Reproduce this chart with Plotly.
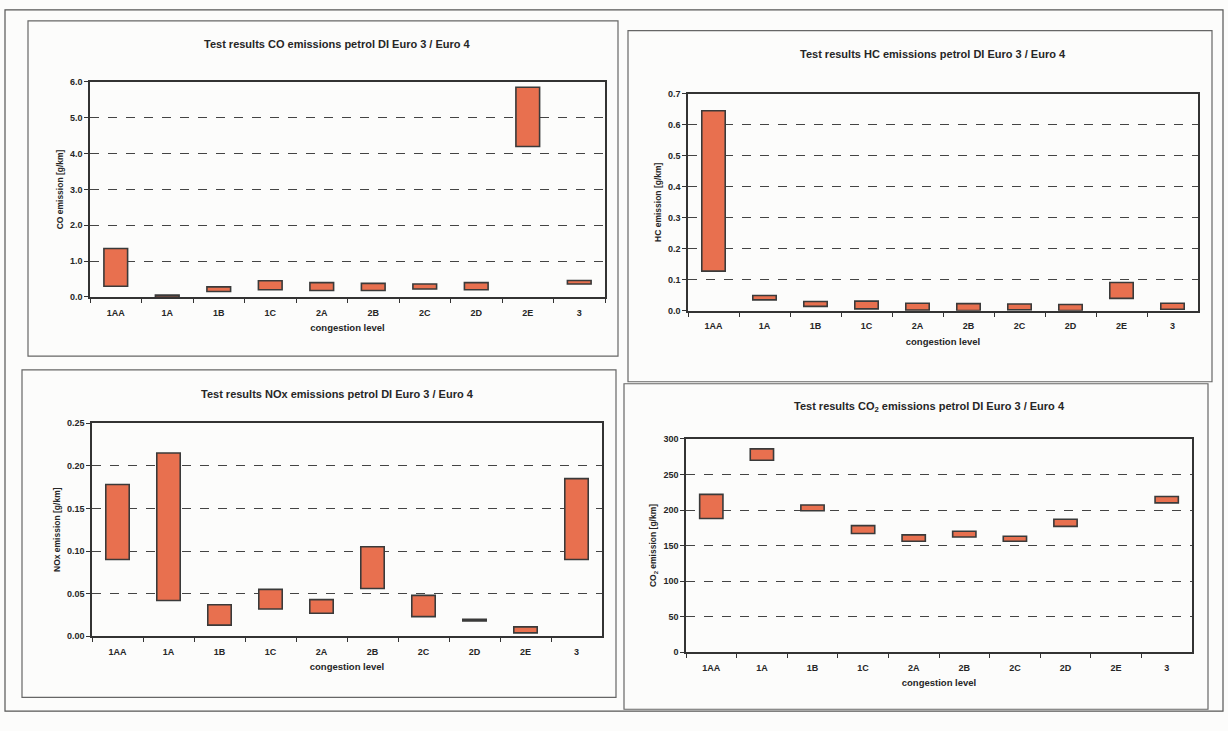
import plotly.graph_objects as go

# congestion levels on the x axis
levels = ["1AA", "1A", "1B", "1C", "2A", "2B", "2C", "2D", "2E", "3"]

# min / max of measured emissions per congestion level [g/km]
co_low = [0.30, 0.00, 0.15, 0.20, 0.18, 0.18, 0.22, 0.20, 4.20, 0.36]
co_high = [1.35, 0.05, 0.28, 0.45, 0.40, 0.38, 0.36, 0.40, 5.85, 0.46]

hc_low = [0.128, 0.035, 0.014, 0.006, 0.002, 0.001, 0.003, 0.001, 0.040, 0.005]
hc_high = [0.645, 0.049, 0.030, 0.031, 0.024, 0.023, 0.022, 0.020, 0.091, 0.024]

nox_low = [0.090, 0.042, 0.013, 0.032, 0.027, 0.056, 0.023, 0.018, 0.004, 0.090]
nox_high = [0.178, 0.215, 0.037, 0.055, 0.043, 0.105, 0.048, 0.020, 0.011, 0.185]

co2_levels = ["1AA", "1A", "1B", "1C", "2A", "2B", "2C", "2D", "3"]
co2_low = [188, 270, 199, 167, 156, 162, 156, 177, 210]
co2_high = [222, 286, 207, 178, 165, 170, 163, 187, 219]

W, H = 1228, 731
FONT = "Liberation Sans, Arial, sans-serif"
INK = "#262626"
BAR_FILL = "#E8704F"
BAR_LINE = "#3a3a3a"


def px(x):
    return x / W


def py(y):
    return 1 - y / H


# panel frame and plot area in pixels: (x0, y0, x1, y1)
panels = [
    dict(frame=(28, 16, 618, 356), plot=(90, 78, 605, 296),
         title="Test results CO emissions petrol DI Euro 3 / Euro 4",
         ytitle="CO emission [g/km]", cats=levels, low=co_low, high=co_high,
         yrange=[0, 6], dtick=1, fmt=".1f"),
    dict(frame=(628, 26, 1212, 382), plot=(688, 90, 1198, 310),
         title="Test results HC emissions petrol DI Euro 3 / Euro 4",
         ytitle="HC emission [g/km]", cats=levels, low=hc_low, high=hc_high,
         yrange=[0, 0.7], dtick=0.1, fmt=".1f"),
    dict(frame=(22, 370, 616, 702), plot=(92, 424, 602, 640),
         title="Test results NOx emissions petrol DI Euro 3 / Euro 4",
         ytitle="NOx emission [g/km]", cats=levels, low=nox_low, high=nox_high,
         yrange=[0, 0.25], dtick=0.05, fmt=".2f"),
    dict(frame=(624, 384, 1208, 714), plot=(686, 440, 1192, 656),
         title="Test results CO<sub>2</sub> emissions petrol DI Euro 3 / Euro 4",
         ytitle="CO<sub>2</sub> emission [g/km]", cats=co2_levels, low=co2_low,
         high=co2_high, yrange=[0, 300], dtick=50, fmt="d"),
]

fig = go.Figure()
shapes = []
annotations = []

# outer frame round the whole sheet
shapes.append(dict(type="rect", xref="paper", yref="paper",
                   x0=px(5), y0=py(716), x1=px(1223), y1=py(5),
                   line=dict(color="#555", width=1.2), layer="below"))

for i, p in enumerate(panels, start=1):
    xa = "x" if i == 1 else f"x{i}"
    ya = "y" if i == 1 else f"y{i}"
    fx0, fy0, fx1, fy1 = p["frame"]
    ax0, ay0, ax1, ay1 = p["plot"]

    shapes.append(dict(type="rect", xref="paper", yref="paper",
                       x0=px(fx0), y0=py(fy1), x1=px(fx1), y1=py(fy0),
                       line=dict(color="#666", width=1.2), layer="below"))

    fig.add_trace(go.Bar(
        x=p["cats"],
        y=[h - l for l, h in zip(p["low"], p["high"])],
        base=p["low"],
        width=0.46,
        marker=dict(color=BAR_FILL, line=dict(color=BAR_LINE, width=1.6)),
        xaxis=xa, yaxis=ya, showlegend=False,
        hovertemplate="%{x}: %{base} – %{y}<extra></extra>",
    ))

    annotations.append(dict(
        xref="paper", yref="paper", x=px((ax0 + ax1) / 2 - 10), y=py(fy0 + 24),
        xanchor="center", yanchor="middle",
        text=f"<b>{p['title']}</b>", showarrow=False,
        font=dict(family=FONT, size=11, color=INK)))

    tickfont = dict(family=FONT, size=9, color=INK, weight="bold")
    axis_common = dict(showline=True, linecolor="#333", linewidth=1.5,
                       mirror=True, ticks="outside", tickcolor="#333",
                       ticklen=4, tickfont=tickfont)

    fig.layout[f"xaxis{'' if i == 1 else i}"] = dict(
        axis_common,
        domain=[px(ax0), px(ax1)], anchor=ya, type="category",
        categoryorder="array", categoryarray=levels,
        tickson="boundaries", showgrid=False, ticklabelstandoff=6,
        title=dict(text="congestion level", standoff=8,
                   font=dict(family=FONT, size=9.5, color=INK, weight="bold")),
    )
    fig.layout[f"yaxis{'' if i == 1 else i}"] = dict(
        axis_common,
        domain=[py(ay1), py(ay0)], anchor=xa,
        range=p["yrange"], dtick=p["dtick"], tick0=0, tickformat=p["fmt"],
        showgrid=True, gridcolor="#444", griddash="dash", gridwidth=1.3,
        zeroline=False,
        title=dict(text=p["ytitle"], standoff=5,
                   font=dict(family=FONT, size=8.5, color=INK, weight="bold")),
    )

fig.update_layout(
    width=W, height=H, margin=dict(l=0, r=0, t=0, b=0),
    paper_bgcolor="#fcfcfb", plot_bgcolor="#fcfcfb",
    shapes=shapes, annotations=annotations, bargap=0.5,
    font=dict(family=FONT, color=INK),
)

fig.write_html("out.html")
